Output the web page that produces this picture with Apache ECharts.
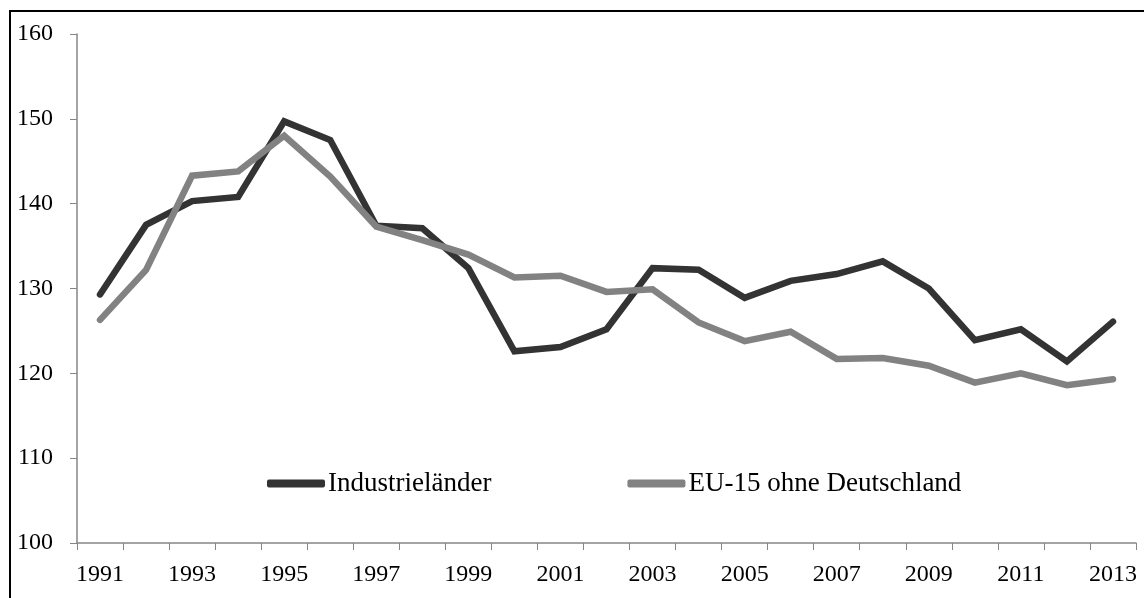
<!DOCTYPE html>
<html>
<head>
<meta charset="utf-8">
<script src="https://cdn.jsdelivr.net/npm/echarts@6/dist/echarts.min.js"></script>
<style>
  html, body { margin: 0; padding: 0; background: #fff; }
  #chart { width: 1144px; height: 598px; }
</style>
</head>
<body>
<div id="chart"></div>
<script>
// Jahre und Werte
var years = ['1991','1992','1993','1994','1995','1996','1997','1998','1999','2000','2001','2002',
             '2003','2004','2005','2006','2007','2008','2009','2010','2011','2012','2013'];
var industrielaender = [129.3, 137.5, 140.3, 140.8, 149.7, 147.5, 137.4, 137.1, 132.4, 122.6, 123.1, 125.2,
                        132.4, 132.2, 128.9, 130.9, 131.7, 133.2, 130.0, 123.9, 125.2, 121.4, 126.1];
var eu15 = [126.3, 132.2, 143.3, 143.8, 148.0, 143.2, 137.3, 135.7, 134.0, 131.3, 131.5, 129.6,
            129.9, 126.0, 123.8, 124.9, 121.7, 121.8, 120.9, 118.9, 120.0, 118.6, 119.3];

var font = '"Liberation Serif", "Times New Roman", serif';

var myChart = echarts.init(document.getElementById('chart'));

var option = {
    animation: false,
    backgroundColor: '#fff',
    textStyle: { fontFamily: font },
    graphic: [{
        type: 'rect',
        shape: { x: 10, y: 11, width: 1140, height: 600 },
        style: { fill: 'none', stroke: '#000', lineWidth: 2 },
        silent: true
    }],
    grid: { left: 77, right: 8, top: 34, bottom: 55, containLabel: false },
    legend: {
        left: 262,
        top: 465,
        itemWidth: 58,
        itemHeight: 8,
        itemGap: 136,
        icon: 'roundRect',
        textStyle: { fontFamily: font, fontSize: 27, color: '#000', padding: [0, 0, 0, -2] },
        data: ['Industrieländer', 'EU-15 ohne Deutschland']
    },
    xAxis: {
        type: 'category',
        data: years,
        boundaryGap: true,
        axisLine: { lineStyle: { color: '#868686', width: 1.5 } },
        axisTick: { show: true, interval: 0, length: 7, inside: false, lineStyle: { color: '#868686' } },
        axisLabel: { interval: 1, margin: 20, fontSize: 24, color: '#000', fontFamily: font },
        splitLine: { show: false }
    },
    yAxis: {
        type: 'value',
        min: 100,
        max: 160,
        interval: 10,
        axisLine: { show: true, lineStyle: { color: '#868686', width: 1.5 } },
        axisTick: { show: true, length: 7, lineStyle: { color: '#868686' } },
        axisLabel: { margin: 24, fontSize: 24, color: '#000', fontFamily: font },
        splitLine: { show: false }
    },
    series: [
        {
            name: 'Industrieländer',
            type: 'line',
            data: industrielaender,
            showSymbol: false,
            symbol: 'none',
            color: '#333333',
            lineStyle: { width: 6.5, color: '#333333', cap: 'round', join: 'miter' }
        },
        {
            name: 'EU-15 ohne Deutschland',
            type: 'line',
            data: eu15,
            showSymbol: false,
            symbol: 'none',
            color: '#828282',
            lineStyle: { width: 6.5, color: '#828282', cap: 'round', join: 'miter' }
        }
    ]
};

myChart.setOption(option);
</script>
</body>
</html>
